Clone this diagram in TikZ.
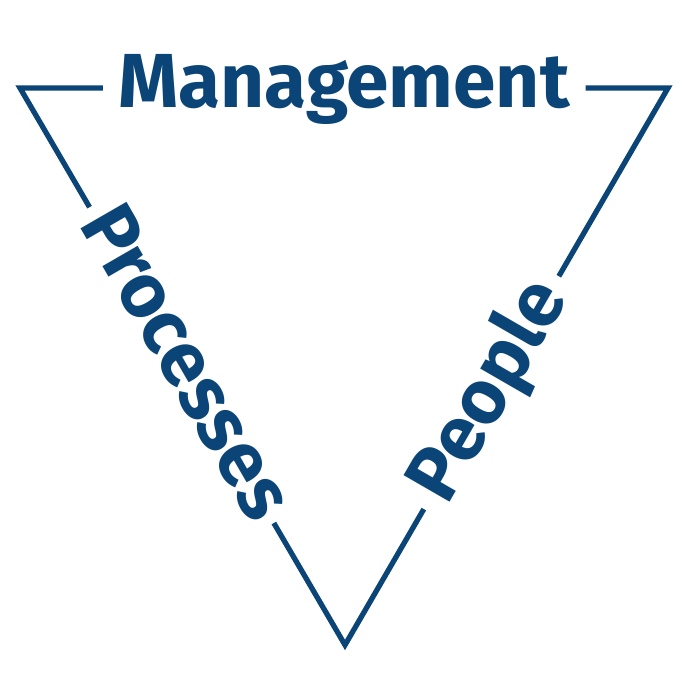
\documentclass[tikz,border=0pt]{standalone}
\usepackage{fontspec}
\setmainfont{Fira Sans}
\usetikzlibrary{calc}
\definecolor{tridark}{HTML}{0B4577}
\tikzset{
  edge/.style={draw=tridark, line width=1.5pt},
  label/.style={text=tridark, font=\bfseries\fontsize{21.8}{24}\selectfont, inner sep=0pt, anchor=mid},
}

\begin{document}
\begin{tikzpicture}
\useasboundingbox (0,0) rectangle (6.9,6.9);
% corners of the triangle
\coordinate (A) at (0.20,6.02);
\coordinate (B) at (6.68,6.02);
\coordinate (C) at (3.45,0.45);
% ends of the gaps left for the words
\coordinate (ab1) at ($(A)!0.128!(B)$);
\coordinate (ab2) at ($(A)!0.873!(B)$);
\coordinate (ac1) at ($(A)!0.214!(C)$);
\coordinate (ac2) at ($(A)!0.781!(C)$);
\coordinate (bc1) at ($(B)!0.338!(C)$);
\coordinate (bc2) at ($(B)!0.756!(C)$);
\node[label, yshift=-0.1cm] (mgmt) at ($(A)!0.5!(B)$) {Management};
\node[label, rotate=-60, yshift=-0.1cm] (proc) at ($(A)!0.4975!(C)$) {Processes};
\node[label, rotate=60, yshift=-0.1cm] (ppl) at ($(B)!0.547!(C)$) {People};
\draw[edge, line join=miter] (ab1) -- (A) -- (ac1);
\draw[edge, line join=miter] (ab2) -- (B) -- (bc1);
\draw[edge, line join=miter] (ac2) -- (C) -- (bc2);
\end{tikzpicture}
\end{document}
